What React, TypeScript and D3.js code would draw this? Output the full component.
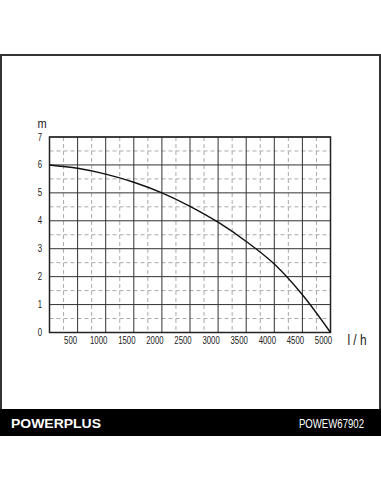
import React from "react";
import * as d3 from "d3";

// Pump performance curve: head (m) vs flow (l/h)
const flowTicks = [500, 1000, 1500, 2000, 2500, 3000, 3500, 4000, 4500, 5000];
const headTicks = [0, 1, 2, 3, 4, 5, 6, 7];
const curveFlow = [0, 500, 1000, 1500, 2000, 2500, 3000, 3500, 4000, 4500, 5000];
const curveHead = [6.0, 5.88, 5.67, 5.38, 5.0, 4.52, 3.95, 3.26, 2.45, 1.35, 0];

const brand = "POWERPLUS";
const model = "POWEW67902";

const W = 381;
const H = 492;
const sans = "'Liberation Sans', Arial, sans-serif";

// Condensed text made by horizontally squeezing a regular face
function NarrowText({
  x,
  y,
  size,
  squeeze = 0.78,
  anchor = "middle",
  fill = "#222",
  weight = 400,
  children,
}: {
  x: number;
  y: number;
  size: number;
  squeeze?: number;
  anchor?: "start" | "middle" | "end";
  fill?: string;
  weight?: number;
  children: React.ReactNode;
}) {
  return (
    <text
      transform={`translate(${x},${y}) scale(${squeeze},1)`}
      textAnchor={anchor}
      fontSize={size}
      fontFamily={sans}
      fontWeight={weight}
      fill={fill}
    >
      {children}
    </text>
  );
}

export default function App() {
  const x = d3.scaleLinear().domain([0, 5000]).range([49.5, 330.5]);
  const y = d3.scaleLinear().domain([0, 7]).range([332.5, 137]);

  const minorX = d3.range(250, 5000, 500);
  const minorY = d3.range(0.5, 7, 1);

  const line = d3
    .line<number>()
    .x((_, i) => x(curveFlow[i]))
    .y((d) => y(d))
    .curve(d3.curveMonotoneX);

  return (
    <svg width={W} height={H} style={{ position: "absolute", left: 0, top: 0 }}>
      <rect width={W} height={H} fill="#fff" />
      {/* outer frame */}
      <rect x={1} y={55} width={W - 2} height={360} fill="none" stroke="#333" strokeWidth={2} />

      {/* dashed half-step grid */}
      {minorX.map((v) => (
        <line key={"mx" + v} x1={x(v)} x2={x(v)} y1={y(7)} y2={y(0)} stroke="#aaa" strokeWidth={1} strokeDasharray="4,3" />
      ))}
      {minorY.map((v) => (
        <line key={"my" + v} x1={x(0)} x2={x(5000)} y1={y(v)} y2={y(v)} stroke="#aaa" strokeWidth={1} strokeDasharray="4,3" />
      ))}
      {/* solid grid */}
      {[0, ...flowTicks].map((v) => (
        <line key={"gx" + v} x1={x(v)} x2={x(v)} y1={y(7)} y2={y(0)} stroke="#333" strokeWidth={1} />
      ))}
      {headTicks.map((v) => (
        <line key={"gy" + v} x1={x(0)} x2={x(5000)} y1={y(v)} y2={y(v)} stroke="#333" strokeWidth={1} />
      ))}
      <rect x={x(0)} y={y(7)} width={x(5000) - x(0)} height={y(0) - y(7)} fill="none" stroke="#222" strokeWidth={1.5} />

      {/* performance curve */}
      <path d={line(curveHead) || ""} fill="none" stroke="#111" strokeWidth={1.4} />

      {/* axis labels */}
      {headTicks.map((v) => (
        <NarrowText key={"ty" + v} x={40} y={y(v) + 3.5} size={10}>
          {v}
        </NarrowText>
      ))}
      {flowTicks.map((v) => (
        <NarrowText key={"tx" + v} x={x(v) - 7} y={344} size={10}>
          {v}
        </NarrowText>
      ))}
      <NarrowText x={42} y={128} size={13} squeeze={0.85}>m</NarrowText>
      <NarrowText x={357} y={345} size={14} squeeze={0.85}>l / h</NarrowText>

      {/* footer band */}
      <rect x={0} y={409} width={W} height={27} fill="#000" />
      <text x={11} y={428} fontSize={13.5} fontWeight={900} fontFamily={sans} fill="#fff" textLength={90} lengthAdjust="spacingAndGlyphs">
        {brand}
      </text>
      <NarrowText x={364} y={428} size={12} squeeze={0.8} anchor="end" fill="#fff">
        {model}
      </NarrowText>
    </svg>
  );
}
